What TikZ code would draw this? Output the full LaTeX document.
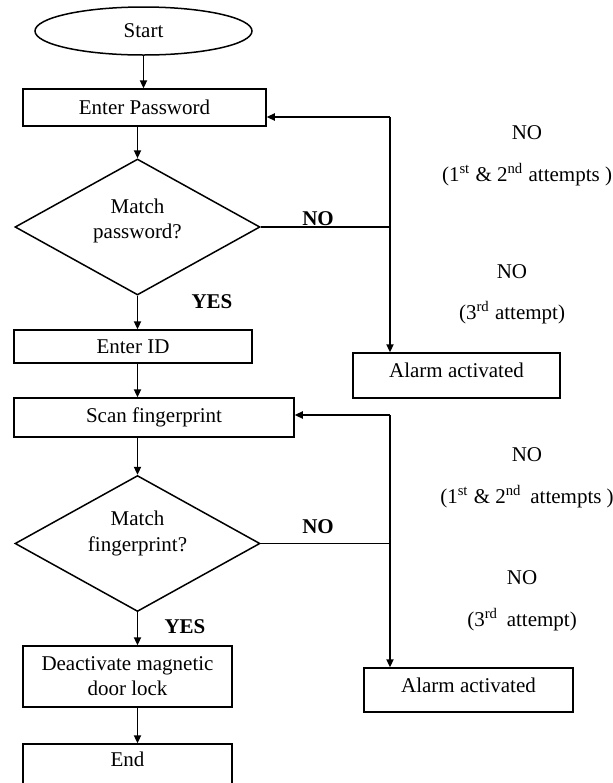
\documentclass[tikz,border=0pt]{standalone}
\usepackage{fontspec}
\setmainfont{Liberation Serif}
\usetikzlibrary{shapes.geometric,arrows.meta}
\begin{document}
\begin{tikzpicture}[
            x=0.5pt,
            y=-0.5pt,
            line width=0.75pt,
            every node/.style={inner sep=0pt},
            arrow/.style={-{Triangle[length=4pt,width=3.6pt]}},
            terminal/.style={draw,ellipse,minimum width=108.5pt,minimum height=24pt},
            process/.style={draw,rectangle,align=center},
            decision/.style={draw,diamond,aspect=1.8,minimum width=122.5pt,minimum height=68pt},
            answer/.style={font=\bfseries}
        ]
            \fontsize{10.5}{12.6}\selectfont
            \clip (0,0) rectangle (613,783);

            % main column
            \node [terminal] (start) at (143.5,31) {Start};
            \node [process,minimum width=121.5pt,minimum height=18.5pt] (pass) at (144.5,107.5) {Enter Password};
            \node [decision,label={[align=center,yshift=3pt]center:Match\\password?}] (matchpass) at (137.5,227) {};
            \node [process,minimum width=119pt,minimum height=16.5pt] (id) at (133,346.5) {Enter ID};
            \node [process,minimum width=140pt,minimum height=19.5pt] (scan) at (154,417.5) {Scan fingerprint};
            \node [decision,label={[align=center,yshift=5pt]center:Match\\fingerprint?}] (matchfp) at (137.5,543.5) {};
            \node [process,minimum width=104.5pt,minimum height=30.5pt] (unlock) at (127.5,676.5) {Deactivate magnetic\\door lock};
            \node [process,minimum width=104.5pt,minimum height=23pt,text depth=8pt] (end) at (127.5,767) {End};

            % alarms
            \node [process,minimum width=103.5pt,minimum height=22.5pt,text depth=5pt] (alarmA) at (456.5,375.5) {Alarm activated};
            \node [process,minimum width=104.5pt,minimum height=22pt,text depth=5pt] (alarmB) at (468.5,690) {Alarm activated};

            \coordinate (loopA) at (390,117);
            \coordinate (loopB) at (390,415);

            \draw [arrow] (start.south) -- (start.south |- pass.north);
            \draw [arrow] (matchpass.north |- pass.south) -- (matchpass.north);
            \draw [arrow] (matchpass.south) -- (matchpass.south |- id.north);
            \draw [arrow] (matchpass.south |- id.south) -- (matchpass.south |- scan.north);
            \draw [arrow] (matchfp.north |- scan.south) -- (matchfp.north);
            \draw [arrow] (matchfp.south) -- (matchfp.south |- unlock.north);
            \draw [arrow] (matchfp.south |- unlock.south) -- (matchfp.south |- end.north);

            % retry loops
            \draw (matchpass.east) -- (matchpass.east -| loopA);
            \draw [arrow] (loopA) -- (pass.east |- loopA);
            \draw [arrow] (loopA) -- (loopA |- alarmA.north);
            \draw (matchfp.east) -- (matchfp.east -| loopB);
            \draw [arrow] (loopB) -- (scan.east |- loopB);
            \draw [arrow] (loopB) -- (loopB |- alarmB.north);

            % labels
            \node [answer] (noA) at (318,219) {NO};
            \node [answer] (yesA) at (212,302) {YES};
            \node [answer] (noB) at (318,527) {NO};
            \node [answer] (yesB) at (185,627) {YES};

            \node (retryA) at (527,133) {NO};
            \node (retryAtext) at (527,175) {(1\textsuperscript{st} \& 2\textsuperscript{nd} attempts )};
            \node (lastA) at (512,272) {NO};
            \node (lastAtext) at (512,313) {(3\textsuperscript{rd} attempt)};
            \node (retryB) at (527,455) {NO};
            \node (retryBtext) at (527,497) {(1\textsuperscript{st} \& 2\textsuperscript{nd}\, attempts )};
            \node (lastB) at (522,578) {NO};
            \node (lastBtext) at (522,620) {(3\textsuperscript{rd}\, attempt)};
        \end{tikzpicture}
\end{document}
